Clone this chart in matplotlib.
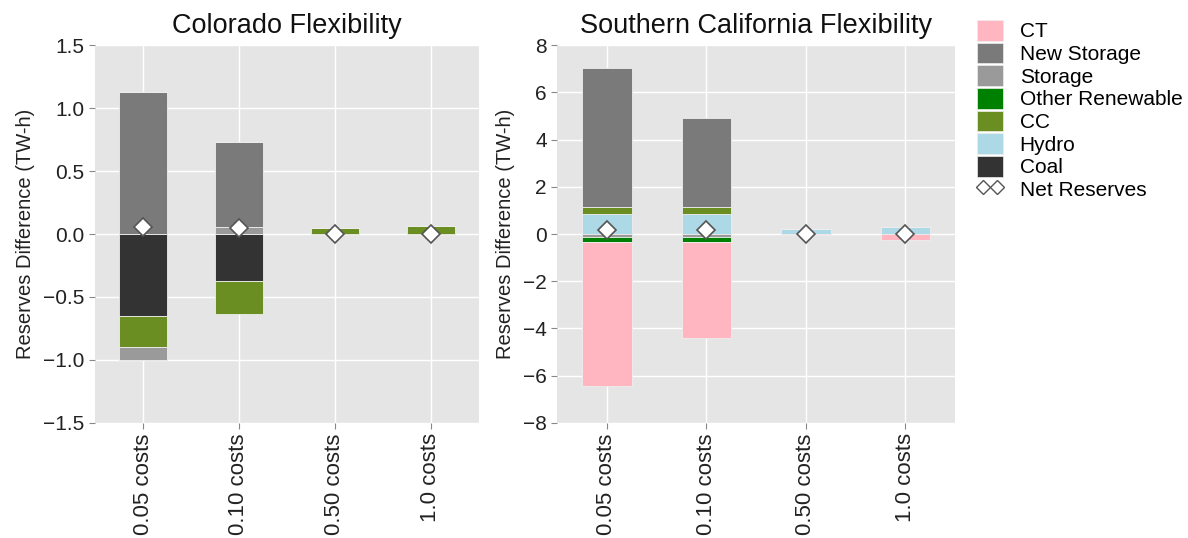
import numpy as np
import matplotlib
matplotlib.use('Agg')
import matplotlib.pyplot as plt
from matplotlib.patches import Patch
from matplotlib.lines import Line2D

plt.style.use('ggplot')
plt.rcParams['font.family'] = ['Liberation Sans', 'DejaVu Sans']

cases = ['0.05 costs', '0.10 costs', '0.50 costs', '1.0 costs']

# stacking order (from zero outward)
techs = ['Coal', 'Hydro', 'CC', 'Storage', 'Other Renewable', 'New Storage', 'CT']
colors = {'CT': '#FFB6C1', 'New Storage': '#7A7A7A', 'Storage': '#9A9A9A',
          'Other Renewable': '#008000', 'CC': '#6B8E23', 'Hydro': '#ADD8E6',
          'Coal': '#333333'}
legend_order = ['CT', 'New Storage', 'Storage', 'Other Renewable', 'CC', 'Hydro', 'Coal']

# Colorado reserves difference (TW-h)
co_coal = [-0.655, -0.375, 0.0, 0.0]
co_hydro = [0.0, 0.0, 0.0, 0.0]
co_cc = [-0.245, -0.26, 0.045, 0.06]
co_storage = [-0.10, 0.058, 0.0, 0.0]
co_other = [0.0, 0.0, 0.0, 0.0]
co_newstorage = [1.125, 0.67, 0.0, 0.0]
co_ct = [0.0, 0.0, 0.0, 0.0]
co_net = [0.053, 0.048, 0.0, 0.0]

# Southern California reserves difference (TW-h)
sc_coal = [0.0, 0.0, 0.0, 0.0]
sc_hydro = [0.86, 0.86, 0.20, 0.28]
sc_cc = [0.28, 0.28, 0.0, 0.0]
sc_storage = [-0.13, -0.13, 0.0, 0.0]
sc_other = [-0.21, -0.20, 0.0, 0.0]
sc_newstorage = [5.88, 3.79, 0.0, 0.0]
sc_ct = [-6.10, -4.06, -0.04, -0.24]
sc_net = [0.17, 0.17, 0.0, 0.0]

co = dict(zip(techs, [co_coal, co_hydro, co_cc, co_storage, co_other, co_newstorage, co_ct]))
sc = dict(zip(techs, [sc_coal, sc_hydro, sc_cc, sc_storage, sc_other, sc_newstorage, sc_ct]))


def stacked(ax, data, net):
    x = np.arange(len(cases))
    pos = np.zeros(len(cases))
    neg = np.zeros(len(cases))
    for t in techs:
        v = np.array(data[t])
        bottom = np.where(v >= 0, pos, neg)
        ax.bar(x, v, 0.5, bottom=bottom, color=colors[t],
               edgecolor='#EEEEEE', linewidth=0.6, zorder=2)
        pos += np.clip(v, 0, None)
        neg += np.clip(v, None, 0)
    ax.plot(x, net, 'D', color='white', markeredgecolor='#555555',
            markeredgewidth=1.2, markersize=9, linestyle='none', zorder=3)
    ax.set_xlim(-0.5, len(cases) - 0.5)
    ax.set_xticks(x)
    ax.set_xticklabels(cases, rotation=90, fontsize=16, color='#222222')
    ax.set_ylabel('Reserves Difference (TW-h)', fontsize=14.5, color='#222222', labelpad=6)
    ax.tick_params(axis='y', labelsize=15, labelcolor='#222222')
    ax.tick_params(direction='out', color='#888888', length=4)
    ax.grid(True, color='white', linewidth=1)
    ax.set_axisbelow(True)
    for s in ax.spines.values():
        s.set_visible(False)


fig = plt.figure(figsize=(11.88, 5.38), dpi=100)
fig.patch.set_facecolor('white')

ax1 = fig.add_axes([0.080, 0.214, 0.323, 0.702])
stacked(ax1, co, co_net)
ax1.set_ylim(-1.5, 1.5)
ax1.set_yticks([-1.5, -1.0, -0.5, 0.0, 0.5, 1.0, 1.5])
ax1.set_yticklabels(['\u22121.5', '\u22121.0', '\u22120.5', '0.0', '0.5', '1.0', '1.5'])
ax1.set_title('Colorado Flexibility', fontsize=19.5, color='#111111', pad=9)

ax2 = fig.add_axes([0.469, 0.214, 0.335, 0.702])
stacked(ax2, sc, sc_net)
ax2.set_ylim(-8, 8)
ax2.set_yticks([-8, -6, -4, -2, 0, 2, 4, 6, 8])
ax2.set_yticklabels(['\u22128', '\u22126', '\u22124', '\u22122', '0', '2', '4', '6', '8'])
ax2.set_title('Southern California Flexibility', fontsize=19.5, color='#111111', pad=9)

handles = [Patch(facecolor=colors[t], edgecolor='#EEEEEE') for t in legend_order]
handles.append(Line2D([0, 1], [0, 0], marker='D', color='white', markerfacecolor='white',
                      markeredgecolor='#555555', markersize=7, linestyle='none'))
fig.legend(handles, legend_order + ['Net Reserves'], loc='upper left',
           bbox_to_anchor=(0.810, 0.99), frameon=False, fontsize=15,
           handlelength=1.25, handleheight=1.15, labelspacing=0.06,
           numpoints=2, handletextpad=0.8, borderpad=0.2)

fig.savefig('out.png', dpi=100, facecolor='white')
